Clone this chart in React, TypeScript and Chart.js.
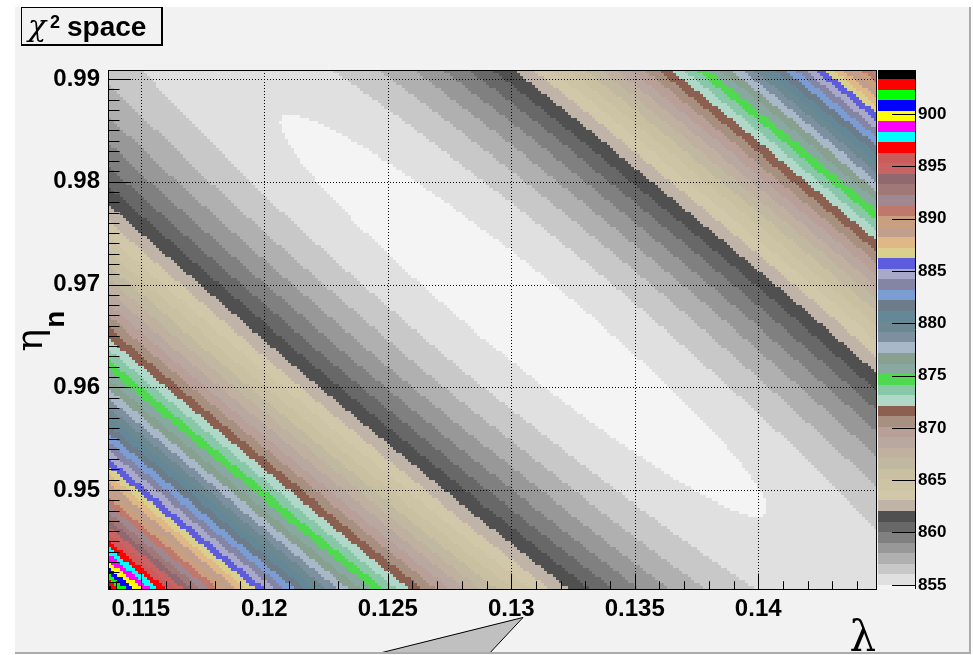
import { useEffect, useRef } from 'react';
import { Chart, registerables } from 'chart.js';

Chart.register(...registerables);

// ---- axis ranges and tick labels ----
const lambdaRange = [0.11367, 0.14481];
const etaRange = [0.94036, 0.99088];
const xTickValues = [0.115, 0.12, 0.125, 0.13, 0.135, 0.14];
const xTickLabels = ['0.115', '0.12', '0.125', '0.13', '0.135', '0.14'];
const yTickValues = [0.95, 0.96, 0.97, 0.98, 0.99];
const yTickLabels = ['0.95', '0.96', '0.97', '0.98', '0.99'];
const zTickValues = [855, 860, 865, 870, 875, 880, 885, 890, 895, 900];
const zTickLabels = ['855', '860', '865', '870', '875', '880', '885', '890', '895', '900'];
const xMinorStep = 0.001;
const yMinorStep = 0.001;

// ---- chi2 surface (paraboloid) ----
const chi2Range = [854.6, 904.2];
const bestFit = [0.1305, 0.96694]; // lambda, eta at the minimum
const curvature = [0.05493, 0.026594, 0.013921]; // A, B, C per (0.001)^2
const binsX = 256;
const binsY = 172;

// ---- contour levels and palette ----
const contourLevels = [
  855.0, 856.01, 857.01, 858.02, 859.03, 860.04, 861.04, 862.05, 863.06, 864.06,
  865.07, 866.08, 867.08, 868.09, 869.1, 870.11, 871.11, 872.12, 873.13, 874.13,
  875.14, 876.15, 877.15, 878.16, 879.17, 880.18, 881.18, 882.19, 883.2, 884.2,
  885.21, 886.22, 887.22, 888.23, 889.24, 890.25, 891.25, 892.26, 893.27, 894.27,
  895.28, 896.29, 897.29, 898.3, 899.31, 900.32, 901.32, 902.33, 903.34,
];
const bandColors = [
  '#f4f4f4', '#e0e0e0', '#c8c8c8', '#b0b0b0', '#989898', '#808080', '#686868', '#505050',
  '#c0b4a8', '#d0c8a8', '#ccc4a4', '#c8c0a0', '#c0b8a0', '#c0b0a0', '#b8a8a0', '#b8a098',
  '#a89080', '#8c6050', '#b0d8c8', '#88c8a8', '#50d850', '#88a8a0', '#88a090', '#a8b8c8',
  '#7c90a0', '#6c8890', '#648898', '#6c7c88', '#7c9cd4', '#8484a4', '#a8a8c8', '#5c5cdc',
  '#d8d08c', '#e0b888', '#c0a08c', '#c8a080', '#c0786c', '#a08890', '#a07878', '#906870',
  '#c86464', '#cc5c5c', '#ff0000', '#00ffff', '#ff00ff', '#ffff00', '#0000ff', '#00ff00',
  '#ff0000', '#000000',
];

const SANS = "'Liberation Sans', Arial, Helvetica, sans-serif";
const SERIF = "'DejaVu Serif', 'Liberation Serif', serif";
const PAPER = '#f2f2f2';

function chi2(lambda: number, eta: number): number {
  const p = (lambda - bestFit[0]) / 0.001;
  const q = (eta - bestFit[1]) / 0.001;
  const [A, B, C] = curvature;
  return chi2Range[0] + A * p * p + 2 * B * p * q + C * q * q;
}

function bandIndex(v: number): number {
  let k = 0;
  while (k < contourLevels.length && v >= contourLevels[k]) k++;
  return k;
}

const rootPlugin = {
  id: 'rootContour',
  beforeDraw(chart: any) {
    const ctx = chart.ctx as CanvasRenderingContext2D;
    const ca = chart.chartArea;
    const xs = chart.scales.x;
    const ys = chart.scales.y;
    ctx.save();
    ctx.fillStyle = '#ffffff';
    ctx.fillRect(0, 0, chart.width, chart.height);
    ctx.fillStyle = PAPER;
    ctx.fillRect(15, 7, 955, 645);

    // contour cells
    ctx.beginPath();
    ctx.rect(ca.left, ca.top, ca.right - ca.left, ca.bottom - ca.top);
    ctx.clip();
    const dl = (lambdaRange[1] - lambdaRange[0]) / binsX;
    const de = (etaRange[1] - etaRange[0]) / binsY;
    for (let i = 0; i < binsX; i++) {
      const l0 = lambdaRange[0] + i * dl;
      const px0 = Math.round(xs.getPixelForValue(l0));
      const px1 = Math.round(xs.getPixelForValue(l0 + dl));
      for (let j = 0; j < binsY; j++) {
        const e0 = etaRange[0] + j * de;
        const py0 = Math.round(ys.getPixelForValue(e0));
        const py1 = Math.round(ys.getPixelForValue(e0 + de));
        const v = chi2(l0 + dl / 2, e0 + de / 2);
        ctx.fillStyle = bandColors[bandIndex(v)];
        ctx.fillRect(px0, py1, px1 - px0, py0 - py1);
      }
    }
    ctx.restore();
  },
  afterDraw(chart: any) {
    const ctx = chart.ctx as CanvasRenderingContext2D;
    const ca = chart.chartArea;
    const xs = chart.scales.x;
    const ys = chart.scales.y;
    const zs = chart.scales.z;
    ctx.save();

    // dotted grid
    ctx.strokeStyle = '#000';
    ctx.lineWidth = 1;
    ctx.setLineDash([1, 2]);
    ctx.beginPath();
    for (const v of xTickValues) {
      const x = Math.round(xs.getPixelForValue(v)) + 0.5;
      ctx.moveTo(x, ca.top);
      ctx.lineTo(x, ca.bottom);
    }
    for (const v of yTickValues) {
      const y = Math.round(ys.getPixelForValue(v)) + 0.5;
      ctx.moveTo(ca.left, y);
      ctx.lineTo(ca.right, y);
    }
    ctx.stroke();
    ctx.setLineDash([]);

    // tick marks
    ctx.beginPath();
    const xMajorLen = 15.5, xMinorLen = 7.8, yMajorLen = 23, yMinorLen = 11.5;
    const nxm = Math.round((lambdaRange[1] - lambdaRange[0]) / xMinorStep) + 2;
    for (let k = -1; k < nxm; k++) {
      const v = Math.ceil(lambdaRange[0] / xMinorStep) * xMinorStep + k * xMinorStep;
      if (v < lambdaRange[0] || v > lambdaRange[1]) continue;
      const major = xTickValues.some((t) => Math.abs(t - v) < 1e-7);
      const x = Math.round(xs.getPixelForValue(v)) + 0.5;
      ctx.moveTo(x, ca.bottom);
      ctx.lineTo(x, ca.bottom - (major ? xMajorLen : xMinorLen));
    }
    const nym = Math.round((etaRange[1] - etaRange[0]) / yMinorStep) + 2;
    for (let k = -1; k < nym; k++) {
      const v = Math.ceil(etaRange[0] / yMinorStep) * yMinorStep + k * yMinorStep;
      if (v < etaRange[0] || v > etaRange[1]) continue;
      const major = yTickValues.some((t) => Math.abs(t - v) < 1e-7);
      const y = Math.round(ys.getPixelForValue(v)) + 0.5;
      ctx.moveTo(ca.left, y);
      ctx.lineTo(ca.left + (major ? yMajorLen : yMinorLen), y);
    }
    ctx.stroke();

    // frame
    ctx.strokeRect(ca.left + 0.5, ca.top + 0.5, ca.right - ca.left - 1, ca.bottom - ca.top);

    // colour palette
    const barL = ca.right + 1;
    const barR = ca.right + 38;
    for (let k = 0; k < bandColors.length; k++) {
      const lo = k === 0 ? chi2Range[0] : contourLevels[k - 1];
      const hi = k === contourLevels.length ? chi2Range[1] : contourLevels[k];
      const y0 = Math.round(zs.getPixelForValue(lo));
      const y1 = Math.round(zs.getPixelForValue(hi));
      ctx.fillStyle = bandColors[k];
      ctx.fillRect(barL, y1, barR - barL, y0 - y1);
    }
    ctx.beginPath();
    ctx.moveTo(barR + 0.5, Math.round(zs.getPixelForValue(chi2Range[1])));
    ctx.lineTo(barR + 0.5, Math.round(zs.getPixelForValue(chi2Range[0])));
    for (const v of zTickValues) {
      const y = Math.round(zs.getPixelForValue(v)) + 0.5;
      ctx.moveTo(barR + 0.5, y);
      ctx.lineTo(barR - 23, y);
    }
    ctx.stroke();

    // title box
    ctx.fillStyle = '#000';
    ctx.fillRect(21, 7, 142, 39);
    ctx.fillStyle = PAPER;
    ctx.fillRect(22, 8, 139, 36);
    ctx.fillStyle = '#000';
    ctx.textBaseline = 'alphabetic';
    ctx.textAlign = 'left';
    ctx.font = `italic 30px ${SERIF}`;
    ctx.fillText('χ', 28, 36);
    ctx.font = `bold 18px ${SANS}`;
    ctx.fillText('2', 50, 28);
    ctx.font = `bold 28px ${SANS}`;
    ctx.fillText('space', 67, 36);

    // axis titles, clipped to the pad
    ctx.save();
    ctx.beginPath();
    ctx.rect(15, 7, 955, 645);
    ctx.clip();
    ctx.font = `42px ${SERIF}`;
    ctx.textAlign = 'right';
    ctx.fillText('λ', ca.right - 1, 651);

    ctx.save();
    ctx.translate(42, (ca.top + ca.bottom) / 2 + 22);
    ctx.rotate(-Math.PI / 2);
    ctx.textAlign = 'left';
    ctx.font = `38px ${SERIF}`;
    ctx.fillText('η', 0, 0);
    const w = ctx.measureText('η').width;
    ctx.font = `bold 28px ${SANS}`;
    ctx.fillText('n', w + 1, 22);
    ctx.restore();

    // callout triangle
    ctx.beginPath();
    ctx.moveTo(523, 617);
    ctx.lineTo(368, 656);
    ctx.lineTo(487, 656);
    ctx.closePath();
    ctx.fillStyle = '#c0c0c0';
    ctx.fill();
    ctx.beginPath();
    ctx.moveTo(368, 656);
    ctx.lineTo(523, 617.5);
    ctx.lineTo(487, 656);
    ctx.strokeStyle = '#000';
    ctx.stroke();
    ctx.restore();

    // pad bevel
    ctx.fillStyle = '#acacac';
    ctx.fillRect(969, 7, 2, 647);
    ctx.fillRect(15, 652, 956, 2);
    ctx.restore();
  },
};

export default function App() {
  const ref = useRef<HTMLCanvasElement>(null);
  useEffect(() => {
    const canvas = ref.current;
    if (!canvas) return;
    const tickFont = { family: SANS, weight: 'bold' as const, size: 24 };
    const chart = new Chart(canvas, {
      type: 'scatter',
      data: { datasets: [{ data: [], showLine: false }] },
      plugins: [rootPlugin],
      options: {
        responsive: false,
        animation: false,
        devicePixelRatio: 1,
        events: [],
        layout: { padding: { top: 70, left: 0, right: 0, bottom: 0 } },
        plugins: { legend: { display: false }, tooltip: { enabled: false }, title: { display: false } },
        scales: {
          x: {
            type: 'linear',
            position: 'bottom',
            min: lambdaRange[0],
            max: lambdaRange[1],
            afterFit: (s: any) => { s.height = 66; },
            afterBuildTicks: (s: any) => { s.ticks = xTickValues.map((v) => ({ value: v })); },
            grid: { display: false, drawTicks: false },
            border: { display: false },
            ticks: {
              autoSkip: false, maxRotation: 0, padding: 6, color: '#000', font: tickFont,
              callback: (_v: any, i: number) => xTickLabels[i],
            },
          },
          y: {
            type: 'linear',
            position: 'left',
            min: etaRange[0],
            max: etaRange[1],
            afterFit: (s: any) => { s.width = 108; },
            afterBuildTicks: (s: any) => { s.ticks = yTickValues.map((v) => ({ value: v })); },
            grid: { display: false, drawTicks: false },
            border: { display: false },
            ticks: {
              autoSkip: false, padding: 8, color: '#000', font: tickFont,
              callback: (_v: any, i: number) => yTickLabels[i],
            },
          },
          z: {
            type: 'linear',
            axis: 'y',
            position: 'right',
            min: chi2Range[0],
            max: chi2Range[1],
            afterFit: (s: any) => { s.width = 96; },
            afterBuildTicks: (s: any) => { s.ticks = zTickValues.map((v) => ({ value: v })); },
            grid: { display: false, drawTicks: false },
            border: { display: false },
            ticks: {
              autoSkip: false, padding: 41, color: '#000',
              font: { family: SANS, weight: 'bold' as const, size: 17 },
              callback: (_v: any, i: number) => zTickLabels[i],
            },
          },
        },
      } as any,
    });
    return () => chart.destroy();
  }, []);
  return (
    <div style={{ position: 'fixed', left: 0, top: 0, width: 973, height: 655, background: '#fff' }}>
      <canvas ref={ref} width={973} height={655} style={{ display: 'block' }} />
    </div>
  );
}
